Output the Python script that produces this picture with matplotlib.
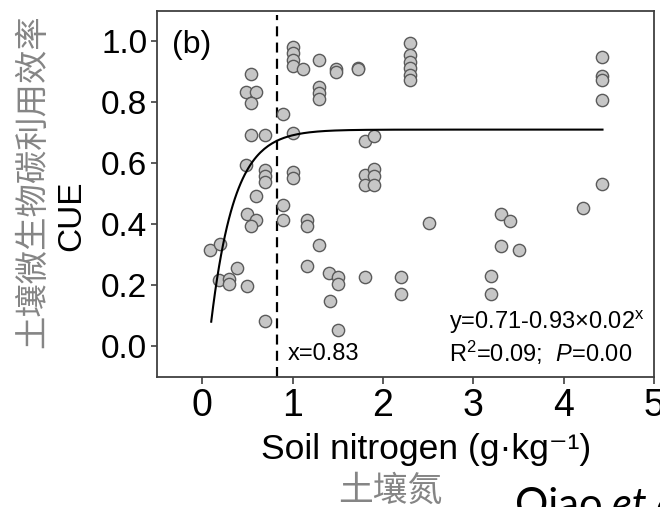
import matplotlib
matplotlib.use('Agg')
import matplotlib.pyplot as plt
import numpy as np

plt.rcParams['font.family'] = ['Liberation Sans', 'DejaVu Sans']
plt.rcParams['mathtext.fontset'] = 'custom'
plt.rcParams['mathtext.rm'] = 'Liberation Sans'
plt.rcParams['mathtext.it'] = 'Liberation Sans:italic'

# ── data ─────────────────────────────────────────────────────────────────────
soil_n = [0.09, 0.20, 0.19, 0.30, 0.30, 0.39, 0.50, 0.70, 0.60, 0.50,
          0.60, 0.545, 0.89, 0.89, 0.49, 0.69, 0.69, 0.69, 1.00, 1.00,
          0.545, 0.69, 1.00, 0.89, 0.545, 0.49, 0.60, 0.545, 1.00, 1.00,
          1.00, 1.00, 1.12, 1.29, 1.29, 1.29, 1.29, 1.48, 1.48, 1.72,
          1.72, 2.30, 2.30, 2.30, 2.30, 2.30, 2.30, 1.80, 1.905, 1.80,
          1.80, 1.905, 1.905, 1.905, 4.425, 4.425, 4.425, 4.425, 4.425, 1.16,
          1.16, 1.29, 1.16, 1.40, 1.50, 1.50, 1.41, 1.50, 1.80, 2.20,
          2.20, 2.51, 3.20, 3.20, 3.31, 3.41, 3.31, 3.51, 4.21]
cue = [0.315, 0.336, 0.217, 0.220, 0.203, 0.256, 0.198, 0.083, 0.494, 0.434,
       0.414, 0.393, 0.463, 0.413, 0.595, 0.578, 0.557, 0.540, 0.571, 0.551,
       0.693, 0.693, 0.700, 0.761, 0.891, 0.832, 0.832, 0.796, 0.982, 0.960,
       0.938, 0.918, 0.908, 0.938, 0.851, 0.829, 0.809, 0.907, 0.900, 0.913,
       0.907, 0.994, 0.954, 0.932, 0.911, 0.889, 0.873, 0.674, 0.690, 0.562,
       0.529, 0.581, 0.559, 0.529, 0.947, 0.886, 0.873, 0.807, 0.533, 0.415,
       0.395, 0.333, 0.263, 0.241, 0.228, 0.204, 0.148, 0.053, 0.227, 0.226,
       0.171, 0.404, 0.232, 0.172, 0.435, 0.412, 0.328, 0.315, 0.453]

# fitted model printed on the chart: y = a - b * c**x
fit_a, fit_b, fit_c = 0.71, 0.93, 0.02
fit_xmin, fit_xmax = 0.10, 4.43
threshold = 0.83

x_ticks = [0, 1, 2, 3, 4, 5]
y_ticks = [0.0, 0.2, 0.4, 0.6, 0.8, 1.0]

CJK = ['Noto Sans CJK SC', 'DejaVu Sans']

# ── figure ───────────────────────────────────────────────────────────────────
fig = plt.figure(figsize=(6.6, 5.07), dpi=100)
ax = fig.add_axes([157 / 660, 1 - 377 / 507, 497 / 660, 366.5 / 507])

ax.scatter(soil_n, cue, s=78, facecolor='#c6c6c6', edgecolor='#5a5a5a',
           linewidth=1.0, zorder=3)

xf = np.linspace(fit_xmin, fit_xmax, 200)
ax.plot(xf, fit_a - fit_b * fit_c ** xf, color='black', lw=1.5, zorder=4)

ax.plot([threshold, threshold], [-0.1, 1.085], color='black', lw=1.6,
        linestyle=(0, (4.5, 2.8)), zorder=2)

ax.set_xlim(-0.5, 5.0)
ax.set_ylim(-0.1, 1.1)
ax.set_xticks(x_ticks)
ax.set_yticks(y_ticks)
ax.set_xticklabels([str(v) for v in x_ticks], fontsize=27)
ax.set_yticklabels([f'{v:.1f}' for v in y_ticks], fontsize=24)
ax.tick_params(axis='y', direction='out', length=4, width=1.2, color='#404040', pad=3)
ax.tick_params(axis='x', direction='out', length=5, width=1.2, color='#404040', pad=3)
for sp in ax.spines.values():
    sp.set_color('#404040')
    sp.set_linewidth(1.3)

ax.text(0.03, 0.905, '(b)', transform=ax.transAxes, fontsize=23,
        ha='left', va='center')
ax.text(0.263, 0.063, 'x=0.83', transform=ax.transAxes, fontsize=17,
        ha='left', va='center')
ax.text(0.588, 0.148, r'y=0.71-0.93×0.02$^{\mathrm{x}}$', transform=ax.transAxes,
        fontsize=17, ha='left', va='center')
ax.text(0.588, 0.066, r'R$^{2}$=0.09;  $\mathit{P}$=0.00', transform=ax.transAxes,
        fontsize=17, ha='left', va='center')

# axis titles (English + Chinese)
fig.text(72 / 660, 1 - 216 / 507, 'CUE', rotation=90, fontsize=24,
         ha='center', va='center')
fig.text(33 / 660, 1 - 181 / 507, '土壤微生物碳利用效率', rotation=90,
         fontsize=24, color='#858585', family=CJK, fontweight='light',
         ha='center', va='center')
fig.text(426 / 660, 1 - 450 / 507, 'Soil nitrogen (g·kg⁻¹)', fontsize=25.5,
         ha='center', va='center')
fig.text(390 / 660, 1 - 491 / 507, '土壤氮', fontsize=25, color='#858585',
         family=CJK, fontweight='light', ha='center', va='center')

# citation, cut off by the slide edge
fig.text(515 / 660, 1 - 518 / 507, 'Qiao', fontsize=30, family='Lato',
         ha='left', va='baseline')
fig.text(612 / 660, 1 - 518 / 507, 'et al.', fontsize=30, family='Lato',
         style='italic', ha='left', va='baseline')

fig.savefig('out.png', dpi=100)
